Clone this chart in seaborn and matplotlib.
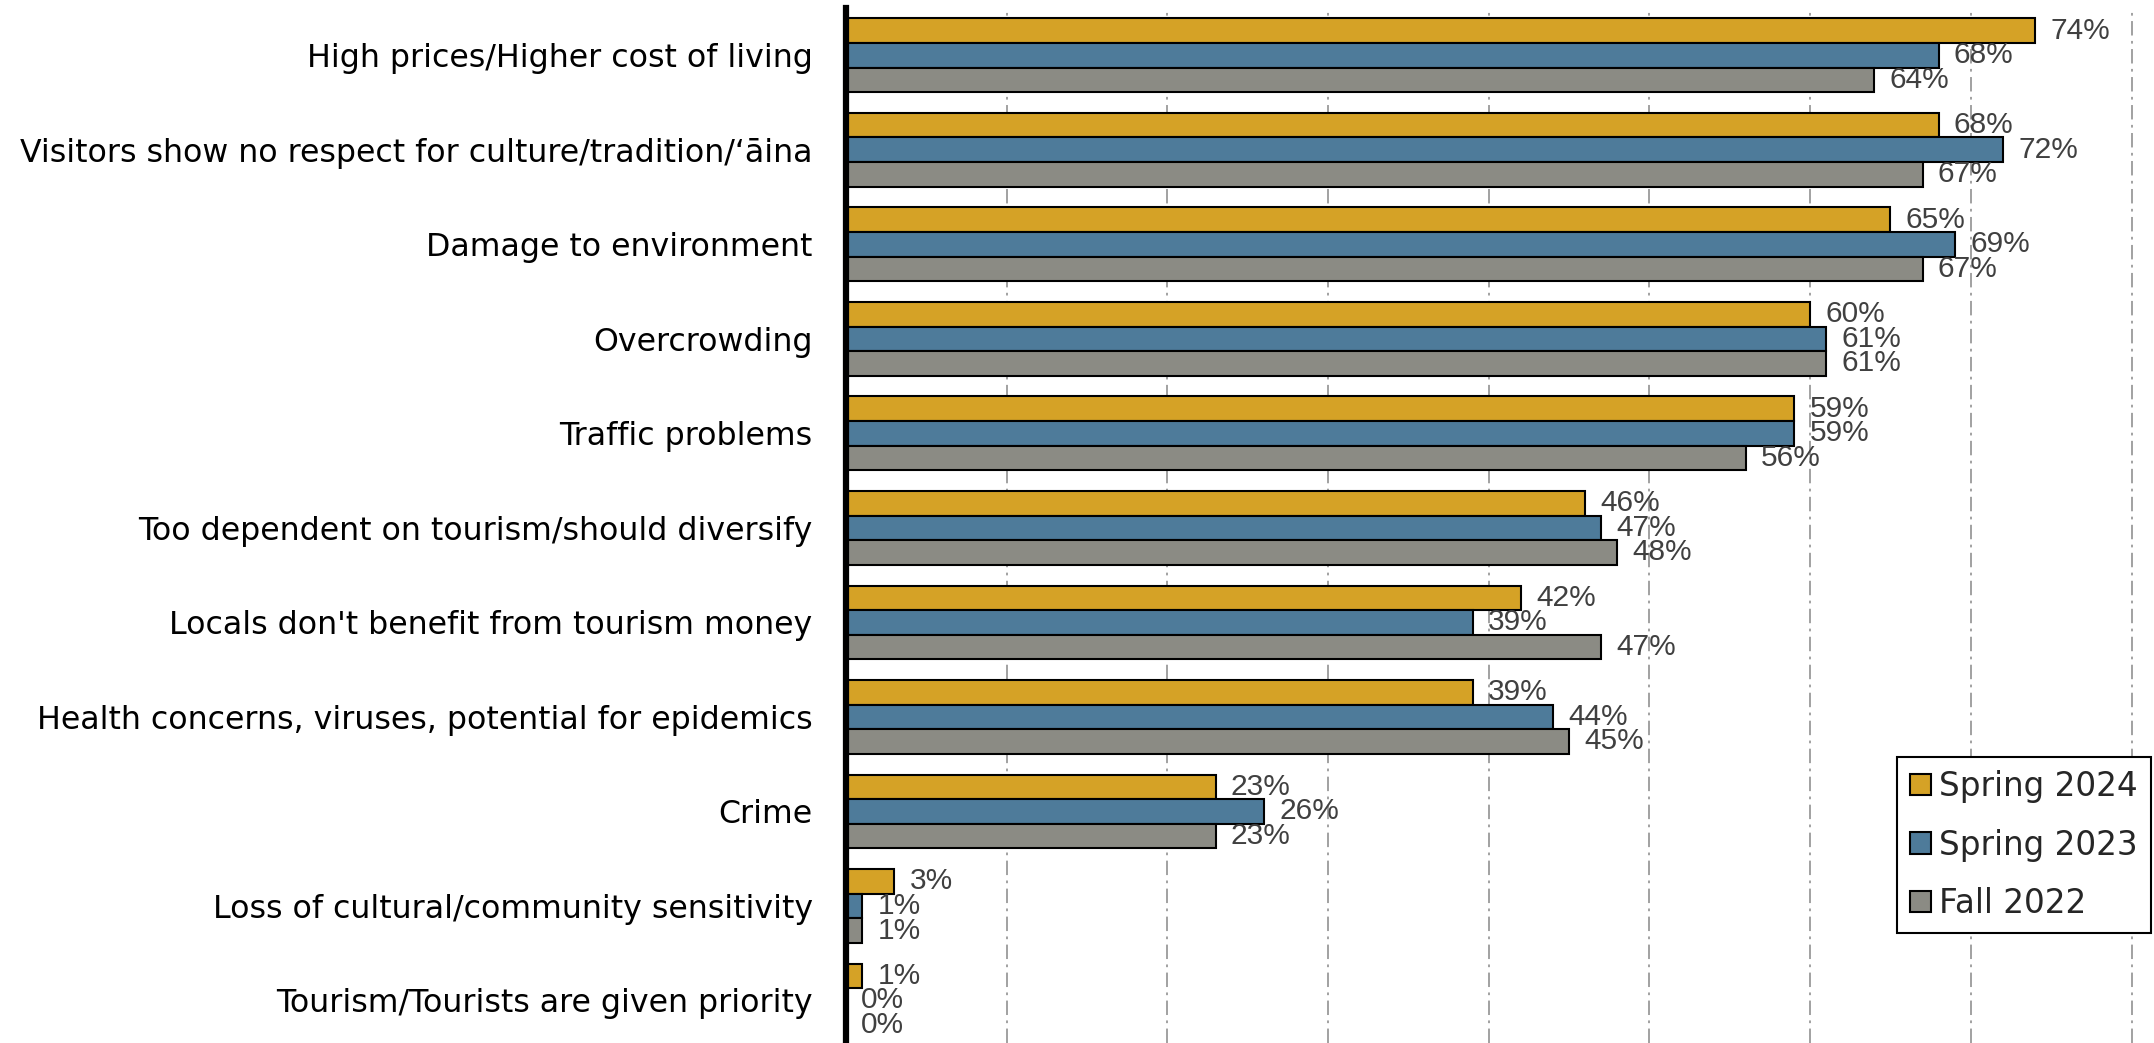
import matplotlib
matplotlib.use("Agg")
import matplotlib.pyplot as plt
import seaborn as sns
import pandas as pd

categories = [
    "High prices/Higher cost of living",
    "Visitors show no respect for culture/tradition/\u2018\u0101ina",
    "Damage to environment",
    "Overcrowding",
    "Traffic problems",
    "Too dependent on tourism/should diversify",
    "Locals don't benefit from tourism money",
    "Health concerns, viruses, potential for epidemics",
    "Crime",
    "Loss of cultural/community sensitivity",
    "Tourism/Tourists are given priority",
]
spring_2024 = [74, 68, 65, 60, 59, 46, 42, 39, 23, 3, 1]
spring_2023 = [68, 72, 69, 61, 59, 47, 39, 44, 26, 1, 0]
fall_2022 = [64, 67, 67, 61, 56, 48, 47, 45, 23, 1, 0]
series_names = ["Spring 2024", "Spring 2023", "Fall 2022"]
colors = ["#D5A226", "#4E7B9A", "#8B8B84"]

df = pd.DataFrame({
    "category": categories * 3,
    "value": spring_2024 + spring_2023 + fall_2022,
    "wave": [s for s in series_names for _ in categories],
})

sns.set_theme(style="white")
plt.rcParams["font.family"] = ["DejaVu Sans"]
value_font = ["Liberation Sans", "DejaVu Sans"]

W, H = 2154, 1043
fig = plt.figure(figsize=(W / 100, H / 100), dpi=100)
ax_left, ax_top = 846, 8
ax = fig.add_axes([ax_left / W, 0, (W - ax_left) / W, (H - ax_top) / H])

sns.barplot(
    data=df, y="category", x="value", hue="wave", hue_order=series_names,
    order=categories, palette=colors, orient="h", width=0.78,
    edgecolor="black", linewidth=1.5, saturation=1, ax=ax, legend=True,
)

for cont in ax.containers:
    ax.bar_label(
        cont, labels=[f"{v:.0f}%" for v in cont.datavalues],
        padding=11, fontsize=21.5, color="#404040", family=value_font,
    )

ax.set_xlim(0, 81.4)
ax.set_ylim(10.45, -0.5)
ax.set_xticks(range(10, 81, 10))
ax.set_xticklabels([])
ax.set_xlabel("")
ax.set_ylabel("")
ax.tick_params(axis="both", length=0)
ax.tick_params(axis="y", pad=24)
for lbl in ax.get_yticklabels():
    lbl.set_fontsize(22.8)
    lbl.set_color("black")

ax.grid(axis="x", color="#9a9a9a", linestyle=(0, (8, 3, 1.5, 3)), linewidth=1.3)
ax.set_axisbelow(True)
for side in ["top", "right", "bottom"]:
    ax.spines[side].set_visible(False)
ax.spines["left"].set_color("black")
ax.spines["left"].set_linewidth(4.5)

handles, labels = ax.get_legend_handles_labels()
leg = ax.legend(
    handles, labels, loc="upper right",
    bbox_to_anchor=(2151 / W, 1 - 757 / H), bbox_transform=fig.transFigure,
    borderaxespad=0, prop={"size": 23.5},
    handlelength=0.62, handleheight=0.62, handletextpad=0.26,
    labelspacing=0.78, borderpad=0.4, fancybox=False, framealpha=1,
    edgecolor="black",
)
leg.get_frame().set_linewidth(1.5)

fig.savefig("out.png", dpi=100)
